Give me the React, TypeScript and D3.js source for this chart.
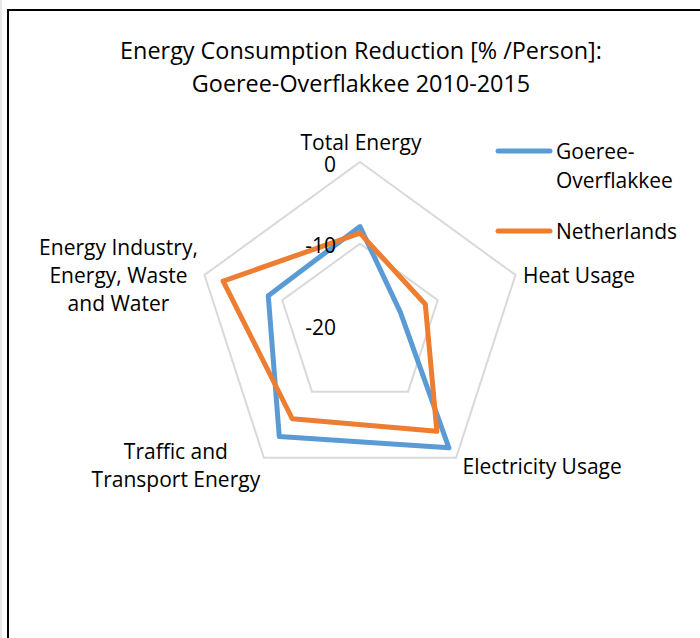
import React from "react";
import * as d3 from "d3";

const axes = [
  ["Total Energy"],
  ["Heat Usage"],
  ["Electricity Usage"],
  ["Traffic and", "Transport Energy"],
  ["Energy Industry,", "Energy, Waste", "and Water"],
];
const goeree = [-7.9, -14.8, -1.5, -3.2, -8.2];
const netherlands = [-8.7, -11.6, -4.0, -5.9, -2.4];
const ticks = [0, -10, -20];
const seriesNames = ["Goeree-Overflakkee", "Netherlands"];

const FONT = "'Open Sans', Lato, sans-serif";
const cx = 360;
const cy = 325.5;
const r = d3.scaleLinear().domain([-20, 0]).range([0, 163.5]);
const angle = (i: number) => (i * 2 * Math.PI) / axes.length;
const pt = (i: number, v: number): [number, number] => [
  cx + r(v) * Math.sin(angle(i)),
  cy - r(v) * Math.cos(angle(i)),
];

const line = d3.line<[number, number]>().curve(d3.curveLinearClosed);

// label offsets from the outer vertex (dy = baseline of the first line)
const labelPos = [
  { dx: 1, dy: -12, anchor: "middle" },
  { dx: 7.5, dy: 8.5, anchor: "start" },
  { dx: 6.5, dy: 16, anchor: "start" },
  { dx: -88, dy: 1, anchor: "middle" },
  { dx: -86, dy: -20, anchor: "middle" },
];

export default function App() {
  const ringPaths = [0, -10].map((t) =>
    line(axes.map((_, i) => pt(i, t)))
  );
  const series = [
    { name: seriesNames[0], values: goeree, color: "#5b9bd5" },
    { name: seriesNames[1], values: netherlands, color: "#ed7d31" },
  ];
  return (
    <div style={{ position: "absolute", left: 0, top: 0 }}>
      <svg width={700} height={638} style={{ display: "block", background: "#fff" }}>
        <line x1={1} y1={0} x2={1} y2={638} stroke="#d0d0d0" strokeWidth={1} />
        <rect x={8} y={10} width={720} height={660} fill="none" stroke="#000" strokeWidth={2} />
        <g fontFamily={FONT} fill="#000" textAnchor="middle" fontSize={23.4}>
          <text x={361} y={59}>Energy Consumption Reduction [% /Person]:</text>
          <text x={361} y={92}>Goeree-Overflakkee 2010-2015</text>
        </g>
        {ringPaths.map((d, i) => (
          <path key={i} d={d ?? ""} fill="none" stroke="#d9d9d9" strokeWidth={2} />
        ))}
        {series.map((s) => (
          <path
            key={s.name}
            d={line(s.values.map((v, i) => pt(i, v))) ?? ""}
            fill="none"
            stroke={s.color}
            strokeWidth={5}
            strokeLinejoin="round"
          />
        ))}
        <g fontFamily={FONT} fontSize={21} fill="#000">
          {ticks.map((t) => (
            <text key={t} x={336} y={cy - r(t) + 9.5} textAnchor="end">
              {t}
            </text>
          ))}
          {axes.map((lines, i) => {
            const [x, y] = pt(i, 0);
            const lp = labelPos[i];
            return (
              <text key={i} textAnchor={lp.anchor as any}>
                {lines.map((l, j) => (
                  <tspan key={j} x={x + lp.dx} y={y + lp.dy + j * 28}>
                    {l}
                  </tspan>
                ))}
              </text>
            );
          })}
        </g>
        <g fontFamily={FONT} fontSize={21} fill="#000">
          <line x1={498} x2={550} y1={151} y2={151} stroke="#5b9bd5" strokeWidth={5} strokeLinecap="round" />
          <text x={556} y={159}>Goeree-</text>
          <text x={556} y={188}>Overflakkee</text>
          <line x1={498} x2={550} y1={231} y2={231} stroke="#ed7d31" strokeWidth={5} strokeLinecap="round" />
          <text x={556} y={239}>{seriesNames[1]}</text>
        </g>
      </svg>
    </div>
  );
}
